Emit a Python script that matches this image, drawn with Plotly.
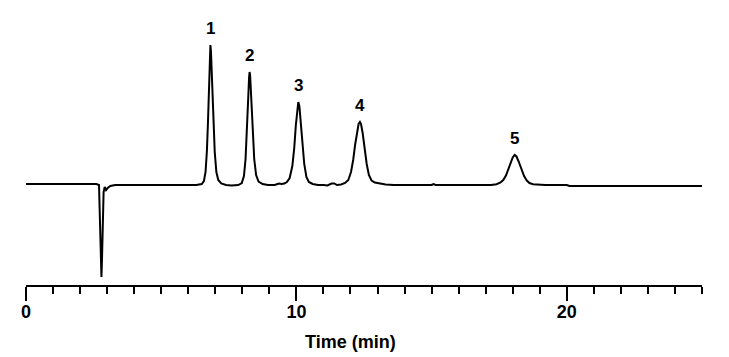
import plotly.graph_objects as go

# Chromatogram trace (time in min, detector signal in arbitrary units)
time_min = [0.00, 1.00, 2.00, 2.60, 2.70, 2.73, 2.76, 2.79, 2.81, 2.84, 2.87, 2.91, 2.96, 3.02, 3.12, 3.30,
            4.50, 5.50, 6.30, 6.50, 6.58, 6.64, 6.69, 6.73, 6.77, 6.80, 6.82, 6.84, 6.88, 6.93, 6.98, 7.04,
            7.11, 7.22, 7.40, 7.60, 7.85, 7.98, 8.06, 8.12, 8.17, 8.22, 8.25, 8.27, 8.29, 8.33, 8.38, 8.44,
            8.51, 8.60, 8.75, 8.95, 9.20, 9.35, 9.45, 9.55, 9.65, 9.75, 9.85, 9.92, 9.98, 10.03, 10.07, 10.11,
            10.16, 10.22, 10.29, 10.37, 10.46, 10.60, 10.80, 11.00, 11.15, 11.30, 11.40, 11.50, 11.65, 11.80,
            11.92, 12.02, 12.10, 12.17, 12.24, 12.30, 12.35, 12.39, 12.45, 12.52, 12.60, 12.68, 12.78, 12.90,
            13.05, 13.30, 13.60, 15.00, 15.07, 15.15, 17.20, 17.40, 17.55, 17.65, 17.75, 17.85, 17.93, 18.00,
            18.07, 18.14, 18.22, 18.32, 18.42, 18.52, 18.62, 18.75, 18.95, 19.20, 20.00, 20.10, 25.00]
signal = [1, 1, 1, 1, 0, -25, -70, -92, -75, -25, -7, -2, -5, -3, -1, 0,
          0, 0, 0, 1, 4, 13, 34, 63, 100, 132, 140, 134, 105, 65, 33, 13,
          5, 1.5, 0, -0.5, 0, 2, 9, 26, 52, 88, 108, 113, 109, 88, 55, 26,
          10, 3.5, 1, 0, 0, 1.5, 1, 1.5, 3, 7, 19, 37, 60, 77, 83, 79,
          64, 42, 21, 8, 3, 1, 0, 0, -0.5, 1.5, 1.5, 0, 0.5, 2,
          5, 13, 25, 40, 53, 61, 63, 61, 52, 37, 21, 10, 4.5, 2.5,
          1.5, 0.5, 0, 0, 1, 0, 0, 0.8, 2.5, 5, 9.5, 16, 22, 27.5,
          30, 28.5, 23.5, 16, 9, 4.5, 2, 0.8, 0.2, 0, 0, -1, -1]

# Peak labels
peak_labels = ["1", "2", "3", "4", "5"]
peak_times = [6.82, 8.27, 10.07, 12.35, 18.07]
peak_heights = [140, 113, 83, 63, 30]

# Axis ticks
major_ticks = [0, 10, 20]
major_tick_labels = ["0", "10", "20"]
x_title = "Time (min)"

FONT = "Liberation Sans, Arial, sans-serif"

fig = go.Figure()
fig.add_trace(go.Scatter(x=time_min, y=signal, mode="lines",
                         line=dict(color="black", width=2), hoverinfo="skip", showlegend=False))

for lab, t, h in zip(peak_labels, peak_times, peak_heights):
    fig.add_annotation(x=t, y=h, text=lab, showarrow=False, yanchor="middle", yshift=17,
                       font=dict(family=FONT, size=17, color="black", weight="bold"))

fig.add_annotation(x=12.0, xref="x", y=0, yref="paper", text=x_title, showarrow=False,
                   yanchor="middle", yshift=-57,
                   font=dict(family=FONT, size=18, color="black", weight="bold"))

fig.update_layout(
    width=729, height=357,
    margin=dict(l=26, r=27, t=20, b=72),
    plot_bgcolor="white", paper_bgcolor="white",
    xaxis=dict(range=[0, 25], showgrid=False, zeroline=False, showline=True, linecolor="black", linewidth=2,
               ticks="outside", ticklen=14, tickwidth=2, tickcolor="black",
               tickmode="array", tickvals=major_ticks, ticktext=major_tick_labels,
               ticklabelstandoff=-5,
               tickfont=dict(family=FONT, size=18, color="black", weight="bold"),
               minor=dict(dtick=1, ticks="outside", ticklen=7, tickwidth=2, tickcolor="black", showgrid=False)),
    yaxis=dict(range=[-100, 165], visible=False, showgrid=False, zeroline=False),
)

fig.write_html("out.html", config={"displayModeBar": False},
               post_script="document.body.style.margin='0';document.body.style.overflow='hidden';")
